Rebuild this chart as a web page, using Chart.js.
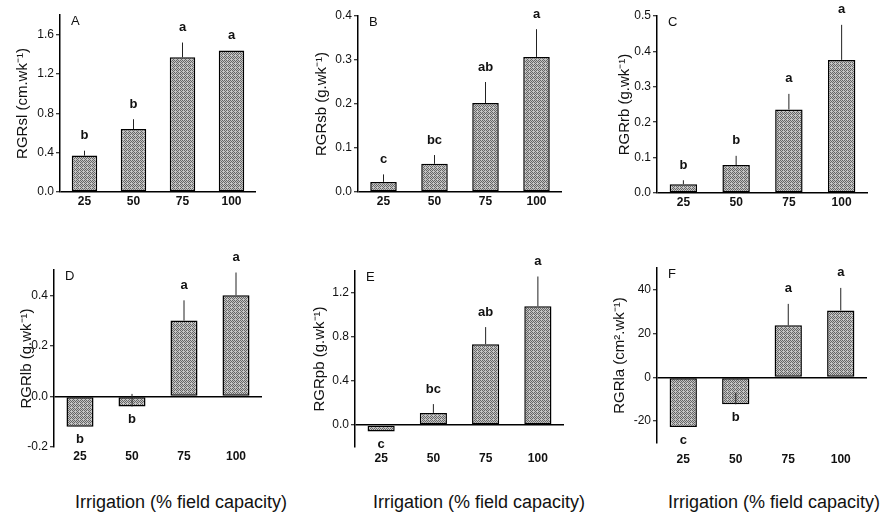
<!DOCTYPE html>
<html>
<head>
<meta charset="utf-8">
<script src="https://cdn.jsdelivr.net/npm/chart.js@4.4.1/dist/chart.umd.min.js"></script>
<style>
	body { margin: 0; background: #fff; }
	#fig { position: relative; width: 880px; height: 516px; overflow: hidden; font-family: "Liberation Sans", Arial, sans-serif; }
	canvas { position: absolute; }
	.xt { position: absolute; top: 492px; font-size: 18px; line-height: 20px; color: #111; white-space: nowrap; }
</style>
</head>
<body>
<div id="fig">
	<canvas id="cA" width="270" height="215" style="left:0px;top:0px"></canvas>
	<canvas id="cB" width="290" height="215" style="left:290px;top:0px"></canvas>
	<canvas id="cC" width="300" height="215" style="left:580px;top:0px"></canvas>
	<canvas id="cD" width="270" height="250" style="left:0px;top:220px"></canvas>
	<canvas id="cE" width="290" height="250" style="left:290px;top:220px"></canvas>
	<canvas id="cF" width="300" height="250" style="left:580px;top:220px"></canvas>
	<div class="xt" style="left:75px">Irrigation (% field capacity)</div>
	<div class="xt" style="left:373px">Irrigation (% field capacity)</div>
	<div class="xt" style="left:668px">Irrigation (% field capacity)</div>
</div>
<script>
// irrigation levels (% field capacity)
const categories = ["25", "50", "75", "100"];

// A - stem length
const rgrSl = [0.37, 0.64, 1.37, 1.44];
const errSl = [0.42, 0.74, 1.52, null];
const lettersSl = ["b", "b", "a", "a"];
const ticksSl = [0, 0.4, 0.8, 1.2, 1.6];

// B - stem biomass
const rgrSb = [0.023, 0.064, 0.202, 0.307];
const errSb = [0.04, 0.084, 0.25, 0.37];
const lettersSb = ["c", "bc", "ab", "a"];
const ticksSb = [0, 0.1, 0.2, 0.3, 0.4];

// C - root biomass
const rgrRb = [0.025, 0.079, 0.236, 0.376];
const errRb = [0.036, 0.105, 0.28, 0.475];
const lettersRb = ["b", "b", "a", "a"];
const ticksRb = [0, 0.1, 0.2, 0.3, 0.4, 0.5];

// D - leaf biomass
const rgrLb = [-0.12, -0.04, 0.30, 0.40];
const errLb = [null, 0.01, 0.38, 0.49];
const lettersLb = ["b", "b", "a", "a"];
const ticksLb = [-0.2, 0, 0.2, 0.4];

// E - plant biomass
const rgrPb = [-0.06, 0.11, 0.735, 1.08];
const errPb = [null, 0.19, 0.89, 1.35];
const lettersPb = ["c", "bc", "ab", "a"];
const ticksPb = [0, 0.4, 0.8, 1.2];

// F - leaf area
const rgrLa = [-22.7, -12.3, 23.8, 30.6];
const errLa = [null, -7, 33.6, 40.9];
const lettersLa = ["c", "b", "a", "a"];
const ticksLa = [-20, 0, 20, 40];

Chart.defaults.font.family = '"Liberation Sans", Arial, sans-serif';
Chart.defaults.color = "#111";

// grey dotted fill like the scanned halftone
function makeFill() {
	const c = document.createElement("canvas");
	c.width = 4;
	c.height = 4;
	const g = c.getContext("2d");
	g.fillStyle = "#c4c4c4";
	g.fillRect(0, 0, 4, 4);
	g.fillStyle = "#666";
	[[0, 0], [2, 0], [1, 1], [3, 1], [0, 2], [2, 2], [1, 3]].forEach(([x, y]) => g.fillRect(x, y, 1, 1));
	return g.createPattern(c, "repeat");
}
const barFill = makeFill();

function makePanel(id, p) {
	const marks = {
		id: "marks",
		afterDatasetsDraw(chart) {
			const ctx = chart.ctx;
			const y = chart.scales.y;
			const meta = chart.getDatasetMeta(0);
			ctx.save();
			ctx.strokeStyle = "#222";
			ctx.lineWidth = 1;
			ctx.fillStyle = "#111";
			ctx.textAlign = "center";
			ctx.textBaseline = "middle";
			ctx.font = 'bold 13px "Liberation Sans", Arial, sans-serif';
			meta.data.forEach((bar, i) => {
				const yv = y.getPixelForValue(p.values[i]);
				let top = yv;
				if (p.err[i] != null) {
					const ye = y.getPixelForValue(p.err[i]);
					ctx.beginPath();
					ctx.moveTo(bar.x, yv);
					ctx.lineTo(bar.x, ye);
					ctx.stroke();
					top = Math.min(yv, ye);
				}
				ctx.fillText(p.letters[i], bar.x, p.values[i] >= 0 ? top - 15 : yv + 13);
			});
			// panel letter
			ctx.textAlign = "left";
			ctx.font = '13px "Liberation Sans", Arial, sans-serif';
			ctx.fillText(p.label, chart.chartArea.left + 11, chart.chartArea.top + 6);
			ctx.restore();
		},
	};

	new Chart(document.getElementById(id), {
		type: "bar",
		data: {
			labels: categories,
			datasets: [
				{
					data: p.values,
					backgroundColor: barFill,
					borderColor: "#000",
					borderWidth: 1.5,
					borderSkipped: false,
					barPercentage: 0.52,
					categoryPercentage: 1,
				},
			],
		},
		options: {
			responsive: false,
			animation: false,
			layout: { padding: { left: 0, top: p.padTop, right: p.padRight, bottom: 0 } },
			plugins: { legend: { display: false }, tooltip: { enabled: false } },
			scales: {
				x: {
					grid: { display: false, drawTicks: false },
					border: { display: false },
					ticks: { color: "#111", font: { size: 12, weight: "bold" }, padding: p.xPad },
					afterFit: (s) => { s.height = p.xH; },
				},
				y: {
					min: p.min,
					max: p.max,
					afterBuildTicks: (s) => { s.ticks = p.ticks.map((v) => ({ value: v })); },
					afterFit: (s) => { s.width = p.yW; },
					border: { display: true, color: "#000", width: 1.5 },
					grid: {
						color: (c) => (c.tick && c.tick.value === 0 ? "#000" : "rgba(0,0,0,0)"),
						lineWidth: 1.5,
						tickLength: 4,
						tickWidth: 1,
						tickColor: "#000",
					},
					ticks: { color: "#111", font: { size: 12 }, padding: 2, callback: (v) => Number(v).toFixed(p.dec) },
					title: { display: true, text: p.yTitle, color: "#111", font: { size: 15 }, padding: { top: p.titlePad, bottom: 0 } },
				},
			},
		},
		plugins: [marks],
	});
}

makePanel("cA", {
	label: "A", values: rgrSl, err: errSl, letters: lettersSl, ticks: ticksSl, min: 0, max: 1.8, dec: 1,
	yTitle: "RGRsl (cm.wk⁻¹)", yW: 60, padTop: 15, padRight: 14, xH: 23, xPad: 2, titlePad: 14,
});
makePanel("cB", {
	label: "B", values: rgrSb, err: errSb, letters: lettersSb, ticks: ticksSb, min: 0, max: 0.4, dec: 1,
	yTitle: "RGRsb (g.wk⁻¹)", yW: 68, padTop: 16, padRight: 18, xH: 23, xPad: 2, titlePad: 23,
});
makePanel("cC", {
	label: "C", values: rgrRb, err: errRb, letters: lettersRb, ticks: ticksRb, min: 0, max: 0.5, dec: 1,
	yTitle: "RGRrb (g.wk⁻¹)", yW: 77, padTop: 16, padRight: 12, xH: 22, xPad: 2, titlePad: 36,
});
makePanel("cD", {
	label: "D", values: rgrLb, err: errLb, letters: lettersLb, ticks: ticksLb, min: -0.2, max: 0.5, dec: 1,
	yTitle: "RGRlb (g.wk⁻¹)", yW: 54, padTop: 50, padRight: 8, xH: 23, xPad: 2, titlePad: 18,
});
makePanel("cE", {
	label: "E", values: rgrPb, err: errPb, letters: lettersPb, ticks: ticksPb, min: -0.2, max: 1.4, dec: 1,
	yTitle: "RGRpb (g.wk⁻¹)", yW: 65, padTop: 51, padRight: 16, xH: 23, xPad: 4, titlePad: 21,
});
makePanel("cF", {
	label: "F", values: rgrLa, err: errLa, letters: lettersLa, ticks: ticksLa, min: -30, max: 50, dec: 0,
	yTitle: "RGRla (cm².wk⁻¹)", yW: 77, padTop: 48, padRight: 13, xH: 27, xPad: 9, titlePad: 31,
});
</script>
</body>
</html>
